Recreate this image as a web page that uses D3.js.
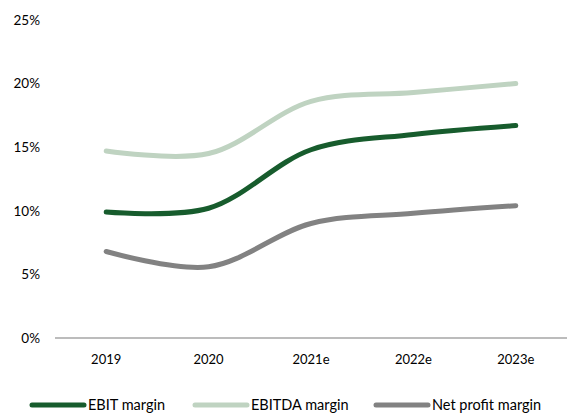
<!DOCTYPE html>
<html>
<head>
<meta charset="utf-8">
<script src="https://cdn.jsdelivr.net/npm/d3@7"></script>
<style>
  body { margin: 0; background: #fff; }
  text { font-family: Lato, "Open Sans", sans-serif; fill: #000; }
</style>
</head>
<body>
<div id="chart"></div>
<script>
// 数据
const years = ["2019", "2020", "2021e", "2022e", "2023e"];
const ebit = [9.9, 10.2, 14.8, 16.0, 16.7];
const ebitda = [14.7, 14.5, 18.6, 19.3, 20.0];
const netProfit = [6.8, 5.6, 9.0, 9.8, 10.4];
const yTicks = [0, 5, 10, 15, 20, 25];

const seriesList = [
    { name: "EBIT margin", values: ebit, color: "#175c2d" },
    { name: "EBITDA margin", values: ebitda, color: "#bfd3c1" },
    { name: "Net profit margin", values: netProfit, color: "#828282" }
];

const width = 572, height = 418;

const svg = d3.select("#chart")
    .append("svg")
    .attr("width", width)
    .attr("height", height);

const x = d3.scaleBand()
    .domain(years)
    .range([55, 567]);

const y = d3.scaleLinear()
    .domain([0, 25])
    .range([338, 20]);

// y轴标签
svg.selectAll("text.ytick")
    .data(yTicks)
    .enter()
    .append("text")
    .attr("class", "ytick")
    .attr("x", 40)
    .attr("y", d => y(d))
    .attr("dy", "0.35em")
    .attr("text-anchor", "end")
    .style("font-size", "13.5px")
    .text(d => d + "%");

// 基线
svg.append("line")
    .attr("x1", 55)
    .attr("x2", 567)
    .attr("y1", y(0))
    .attr("y2", y(0))
    .attr("stroke", "#a6a6a6")
    .attr("stroke-width", 1.5);

// x轴标签
svg.selectAll("text.xtick")
    .data(years)
    .enter()
    .append("text")
    .attr("class", "xtick")
    .attr("x", d => x(d) + x.bandwidth() / 2)
    .attr("y", 359)
    .attr("dy", "0.35em")
    .attr("text-anchor", "middle")
    .style("font-size", "13px")
    .text(d => d);

// 折线
const line = d3.line()
    .x((d, i) => x(years[i]) + x.bandwidth() / 2)
    .y(d => y(d))
    .curve(d3.curveCatmullRom.alpha(0.5));

svg.selectAll("path.series")
    .data(seriesList)
    .enter()
    .append("path")
    .attr("class", "series")
    .attr("d", d => line(d.values))
    .attr("fill", "none")
    .attr("stroke", d => d.color)
    .attr("stroke-width", 5)
    .attr("stroke-linecap", "round")
    .attr("stroke-linejoin", "round");

// 图例
const legendX = [30, 193, 374];
const legend = svg.selectAll("g.legend")
    .data(seriesList)
    .enter()
    .append("g")
    .attr("class", "legend")
    .attr("transform", (d, i) => `translate(${legendX[i]},405)`);

legend.append("line")
    .attr("x1", 2)
    .attr("x2", 54)
    .attr("stroke", d => d.color)
    .attr("stroke-width", 5)
    .attr("stroke-linecap", "round");

legend.append("text")
    .attr("x", 58)
    .attr("dy", "0.35em")
    .style("font-size", "14.5px")
    .text(d => d.name);
</script>
</body>
</html>
